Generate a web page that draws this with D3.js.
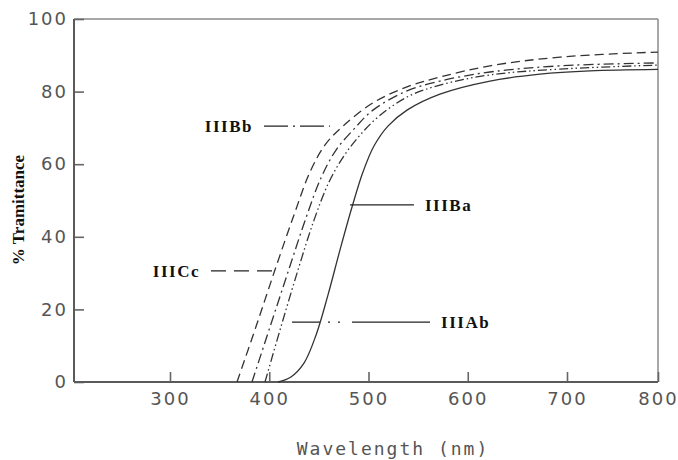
<!DOCTYPE html>
<html>
<head>
<meta charset="utf-8">
<script src="https://cdn.jsdelivr.net/npm/d3@7"></script>
<style>
  body { margin: 0; background: #fff; }
  svg { display: block; }
</style>
</head>
<body>
<svg id="chart" width="678" height="460"></svg>
<script>
// curves: [wavelength nm, % transmittance]
var iiiCc = [[367.5,0],[386.6,15.2],[405.8,30.9],[424.9,46],[441.1,57.9],[456.2,65.3],[474.3,70.5],
             [504.5,76.9],[538.8,81.3],[572,84],[622.4,87.1],[693,89.5],[800,90.9]]
var iiiBb = [[382.6,0],[400.8,15.2],[418.9,30.3],[437,45.2],[452.1,56.2],[467.3,63.9],[484.4,69.4],
             [504.5,74.9],[538.8,80.2],[572,82.9],[622.4,85.4],[693,87.1],[800,87.9]]
var iiiAb = [[395.7,0],[411.8,15.2],[429,30.9],[445.1,44.6],[460.2,55.1],[475.3,62.3],[491.4,68],
             [509.6,73],[538.8,78.5],[572,81.8],[622.4,84.6],[693,86.2],[800,87.3]]
var iiiBa = [[408.8,0],[421.9,1.4],[435,5.2],[447.1,12.9],[459.2,24],[471.3,36.4],[483.4,48.2],
             [494.5,57.9],[505.5,65],[519.6,70.5],[538.8,74.9],[572,79.3],[622.4,82.9],[672.8,84.8],
             [725.3,85.7],[800,86.1]]

var series = [
  {name: 'IIICc', values: iiiCc, dash: '9,5'},
  {name: 'IIIBb', values: iiiBb, dash: '10,4,2,4'},
  {name: 'IIIAb', values: iiiAb, dash: '9,3,1.5,3,1.5,3'},
  {name: 'IIIBa', values: iiiBa, dash: null}
]

// leader lines for the labels, in data units
var labels = [
  {name: 'IIIBb', x1: 394.7, x2: 461.2, y: 70.5, side: 'left',  dash: '24,5,2,5'},
  {name: 'IIICc', x1: 341.3, x2: 405.8, y: 30.6, side: 'left',  dash: '15,8'},
  {name: 'IIIBa', x1: 481.4, x2: 545.8, y: 48.8, side: 'right', dash: null},
  {name: 'IIIAb', x1: 422.9, x2: 562,   y: 16.5, side: 'right', dash: '28,8,2,8,2,12,80'}
]

var xTicks = [300, 400, 500, 600, 700, 800]
var yTicks = [0, 20, 40, 60, 80, 100]

var plotLeft = 74, plotRight = 658, plotTop = 19, plotBottom = 382

// the printed axis is not quite even, so use a piecewise scale
var x = d3.scaleLinear()
    .domain([204, 300, 700, 800])
    .range([plotLeft, 170, 567, plotRight])

var y = d3.scaleLinear()
    .domain([0, 100])
    .range([plotBottom, plotTop])

var svg = d3.select('#chart')

svg.append('rect')
    .attr('width', 678)
    .attr('height', 460)
    .attr('fill', '#fff')

// frame
svg.append('line')
    .attr('x1', plotLeft).attr('y1', plotTop).attr('x2', plotRight).attr('y2', plotTop)
    .style('stroke', '#8a8a8a').style('stroke-width', 1.5)
svg.append('line')
    .attr('x1', plotRight).attr('y1', plotTop).attr('x2', plotRight).attr('y2', plotBottom)
    .style('stroke', '#8a8a8a').style('stroke-width', 1.5)

var xAxis = svg.append('g')
    .attr('transform', 'translate(0,' + plotBottom + ')')
    .call(d3.axisBottom(x).tickValues(xTicks).tickSizeInner(-10).tickSizeOuter(0).tickPadding(10))

var yAxis = svg.append('g')
    .attr('transform', 'translate(' + plotLeft + ',0)')
    .call(d3.axisLeft(y).tickValues(yTicks).tickSizeInner(-10).tickSizeOuter(0).tickPadding(6))

;[xAxis, yAxis].forEach(function(g) {
  g.select('.domain').remove()
  g.selectAll('.tick line').style('stroke', '#666').style('stroke-width', 1.6)
  g.selectAll('.tick text')
      .style('font-family', 'DejaVu Sans')
      .style('font-size', '18px')
      .style('letter-spacing', '2px')
      .style('fill', '#555')
})

svg.append('line')
    .attr('x1', plotLeft).attr('y1', plotTop).attr('x2', plotLeft).attr('y2', plotBottom)
    .style('stroke', '#5a5a5a').style('stroke-width', 2)
svg.append('line')
    .attr('x1', plotLeft).attr('y1', plotBottom).attr('x2', plotRight).attr('y2', plotBottom)
    .style('stroke', '#5a5a5a').style('stroke-width', 2)

// curves
var line = d3.line()
    .x(function(d) { return x(d[0]); })
    .y(function(d) { return y(d[1]); })
    .curve(d3.curveCatmullRom.alpha(0.5))

svg.selectAll('path.curve')
    .data(series)
    .join('path')
    .attr('class', 'curve')
    .attr('d', function(d) { return line(d.values); })
    .attr('fill', 'none')
    .style('stroke', '#333')
    .style('stroke-width', 1.3)
    .style('stroke-dasharray', function(d) { return d.dash; })

// labels
svg.selectAll('line.leader')
    .data(labels)
    .join('line')
    .attr('class', 'leader')
    .attr('x1', function(d) { return x(d.x1); })
    .attr('x2', function(d) { return x(d.x2); })
    .attr('y1', function(d) { return y(d.y); })
    .attr('y2', function(d) { return y(d.y); })
    .style('stroke', '#222')
    .style('stroke-width', 1.4)
    .style('stroke-dasharray', function(d) { return d.dash; })

svg.selectAll('text.lab')
    .data(labels)
    .join('text')
    .attr('class', 'lab')
    .attr('x', function(d) { return d.side == 'left' ? x(d.x1) - 11 : x(d.x2) + 11; })
    .attr('y', function(d) { return y(d.y) + 6; })
    .attr('text-anchor', function(d) { return d.side == 'left' ? 'end' : 'start'; })
    .style('font-family', 'Liberation Serif')
    .style('font-weight', 'bold')
    .style('font-size', '17px')
    .style('letter-spacing', '1.5px')
    .style('fill', '#111')
    .text(function(d) { return d.name; })

// axis titles
svg.append('text')
    .attr('x', 393)
    .attr('y', 455)
    .attr('text-anchor', 'middle')
    .style('font-family', 'DejaVu Sans Mono')
    .style('font-size', '18px')
    .style('letter-spacing', '2px')
    .style('fill', '#555')
    .text('Wavelength (nm)')

svg.append('text')
    .attr('transform', 'translate(24,210) rotate(-90)')
    .attr('text-anchor', 'middle')
    .style('font-family', 'Liberation Serif')
    .style('font-weight', 'bold')
    .style('font-size', '17px')
    .style('fill', '#111')
    .text('% Tramittance')
</script>
</body>
</html>
